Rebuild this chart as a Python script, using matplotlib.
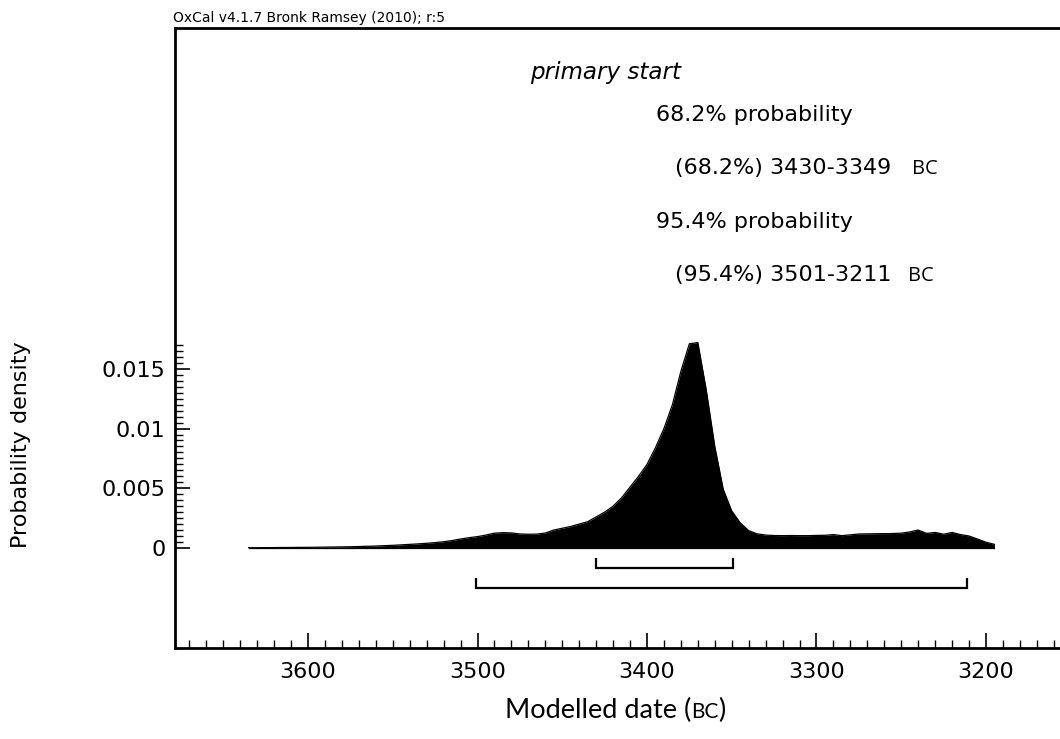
import numpy as np
import matplotlib
matplotlib.use("Agg")
import matplotlib.pyplot as plt
from matplotlib.ticker import MultipleLocator, FixedLocator

# ---- data ----
years = [3635, 3630, 3625, 3620, 3615, 3610, 3605, 3600, 3595, 3590,
         3585, 3580, 3575, 3570, 3565, 3560, 3555, 3550, 3545, 3540,
         3535, 3530, 3525, 3520, 3515, 3510, 3505, 3500, 3495, 3490,
         3485, 3480, 3475, 3470, 3465, 3460, 3455, 3450, 3445, 3440,
         3435, 3430, 3425, 3420, 3415, 3410, 3405, 3400, 3395, 3390,
         3385, 3380, 3375, 3370, 3365, 3360, 3355, 3350, 3345, 3340,
         3335, 3330, 3325, 3320, 3315, 3310, 3305, 3300, 3295, 3290,
         3285, 3280, 3275, 3270, 3265, 3260, 3255, 3250, 3245, 3240,
         3235, 3230, 3225, 3220, 3215, 3210, 3205, 3200, 3195]
density = [0.00002, 0.00002, 0.00003, 0.00003, 0.00004, 0.00004, 0.00005, 0.00005, 0.00006, 0.00007,
           0.00008, 0.00009, 0.00010, 0.00012, 0.00014, 0.00016, 0.00019, 0.00022, 0.00026, 0.00030,
           0.00034, 0.00039, 0.00045, 0.00052, 0.00062, 0.00075, 0.00086, 0.00095, 0.00108, 0.00124,
           0.00128, 0.00126, 0.00117, 0.00115, 0.00116, 0.00125, 0.00150, 0.00165, 0.00180, 0.00200,
           0.00220, 0.00260, 0.00300, 0.00350, 0.00420, 0.00510, 0.00600, 0.00700, 0.00840, 0.01000,
           0.01200, 0.01480, 0.01710, 0.01720, 0.01320, 0.00850, 0.00490, 0.00310, 0.00210, 0.00145,
           0.00118, 0.00108, 0.00104, 0.00103, 0.00104, 0.00103, 0.00103, 0.00105, 0.00106, 0.00112,
           0.00103, 0.00110, 0.00117, 0.00118, 0.00119, 0.00120, 0.00121, 0.00124, 0.00134, 0.00150,
           0.00122, 0.00130, 0.00115, 0.00130, 0.00112, 0.00100, 0.00075, 0.00048, 0.00030]

range68 = (3430, 3349)
range95 = (3501, 3211)
title = "primary start"
header = "OxCal v4.1.7 Bronk Ramsey (2010); r:5"
x_major = [3600, 3500, 3400, 3300, 3200]
y_major = [0, 0.005, 0.01, 0.015]
y_labels = ["0", "0.005", "0.01", "0.015"]

# ---- figure ----
W, H = 1060, 739
fig = plt.figure(figsize=(W / 100, H / 100), dpi=100)
ax = fig.add_axes([175 / W, 1 - 648 / H, 1 - 175 / W, (648 - 28) / H])
ax.set_xlim(3678.5, 3156.3)
ax.set_ylim(-0.00838, 0.04355)

ax.fill_between(years, 0, density, color="black", linewidth=0)
ax.plot(years, density, color="black", lw=0.9)
ax.plot([years[0], years[-1]], [0, 0], color="black", lw=0.9)

# range brackets
def bracket(rng, y, h):
    a, b = rng
    ax.plot([a, a, b, b], [y + h, y, y, y + h], color="black", lw=1.6,
            solid_joinstyle="miter", solid_capstyle="butt")

bracket(range68, -0.00168, 0.00084)
bracket(range95, -0.00335, 0.00084)

# spines
for s in ["left", "top", "bottom"]:
    ax.spines[s].set_linewidth(2.0)
ax.spines["right"].set_visible(False)

ax.xaxis.set_major_locator(FixedLocator(x_major))
ax.xaxis.set_minor_locator(MultipleLocator(10))
ax.yaxis.set_major_locator(FixedLocator(y_major))
ax.set_yticklabels(y_labels)
ax.yaxis.set_minor_locator(FixedLocator(list(np.arange(0, 0.01705, 0.0005))))
ax.tick_params(axis="both", which="both", direction="in", top=False, right=False)
ax.tick_params(axis="both", which="major", length=11, width=1.2, labelsize=16)
ax.tick_params(axis="both", which="minor", length=5.5, width=1.0)
ax.tick_params(axis="x", which="major", pad=10)
ax.tick_params(axis="y", which="major", pad=7)

# texts
fig.text(173 / W, 1 - 22 / H, header, fontsize=10, va="baseline", ha="left")
fig.text(530 / W, 1 - 79 / H, title, fontsize=16.6,
         style="italic", va="baseline", ha="left")

lines = [("68.2% probability", 656, 121, None),
         ("(68.2%%) %d-%d" % range68, 675, 174, 912),
         ("95.4% probability", 656, 228, None),
         ("(95.4%%) %d-%d" % range95, 675, 281, 908)]
for txt, x, y, bx in lines:
    fig.text(x / W, 1 - y / H, txt, fontsize=16, va="baseline", ha="left")
    if bx is not None:
        fig.text(bx / W, 1 - y / H, "BC", fontsize=14.5, va="baseline", ha="left",
                 family="Open Sans")

fig.text(21 / W, 1 - 445 / H, "Probability density", rotation=90,
         fontsize=16, va="center", ha="center")

# x label with small-caps BC
fig.canvas.draw()
r = fig.canvas.get_renderer()
base_y = 1 - 718 / H
fam = "Lato"
t1 = fig.text(505 / W, base_y, "Modelled date (", fontsize=19.5, family=fam,
              va="baseline", ha="left")
e1 = t1.get_window_extent(r)
t2 = fig.text(e1.x1 / W, base_y, "BC", fontsize=15, family=fam,
              va="baseline", ha="left")
e2 = t2.get_window_extent(r)
fig.text(e2.x1 / W, base_y, ")", fontsize=19.5, family=fam,
         va="baseline", ha="left")

fig.savefig("out.png", dpi=100)
